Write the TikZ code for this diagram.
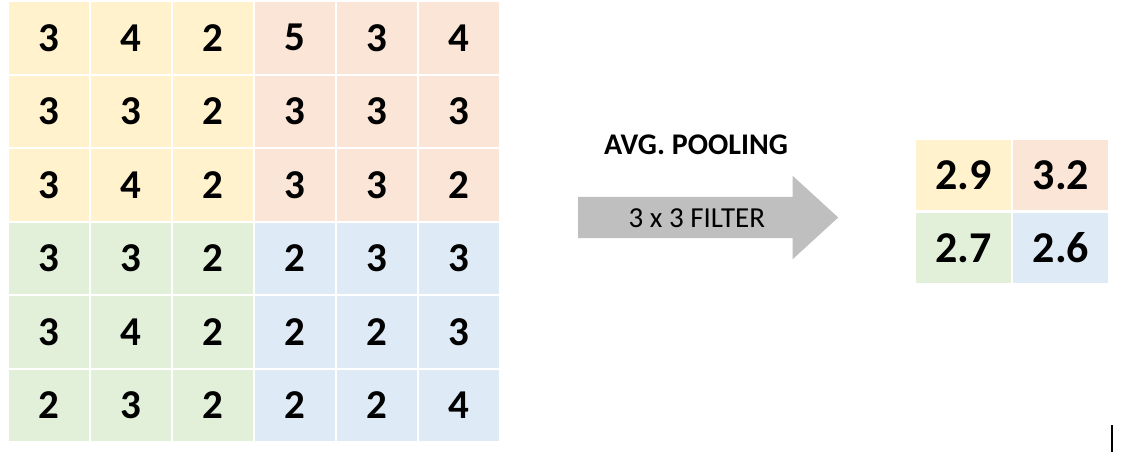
\documentclass[tikz,border=0pt]{standalone}
\usepackage{fontspec}
\setmainfont{Carlito}
\usetikzlibrary{positioning}
\usetikzlibrary{shapes.arrows}
\definecolor{q0}{HTML}{FFF2CC}
\definecolor{q1}{HTML}{FBE5D6}
\definecolor{q2}{HTML}{E2F0D9}
\definecolor{q3}{HTML}{DEEBF7}
\definecolor{arrowgray}{HTML}{BFBFBF}
\tikzset{cell/.style={minimum width=80pt, minimum height=71.5pt, inner sep=0pt, font=\fontsize{41}{41}\selectfont\bfseries}}
\tikzset{outcell/.style={minimum width=95pt, minimum height=70pt, inner sep=0pt, font=\fontsize{44}{44}\selectfont\bfseries}}

\begin{document}
\begin{tikzpicture}[x=1pt,y=-1pt]
\useasboundingbox (0,0) rectangle (1121,452);
\foreach \row [count=\rw from 0] in {{3,4,2,5,3,4},{3,3,2,3,3,3},{3,4,2,3,3,2},{3,3,2,2,3,3},{3,4,2,2,2,3},{2,3,2,2,2,4}} {
  \foreach \v [count=\cl from 0] in \row {
    \pgfmathtruncatemacro{\q}{int(\rw/3)*2+int(\cl/3)}
    \node (in\rw\cl) [cell, fill=q\q] at (49+82*\cl, 37.75+73.5*\rw) {\v};
  }
}

\node (o00) [outcell, fill=q0] at (963.5,175) {2.9};
\node (o01) [outcell, fill=q1, right=2pt of o00] {3.2};
\node (o10) [outcell, fill=q2, below=2.5pt of o00] {2.7};
\node (o11) [outcell, fill=q3, right=2pt of o10] {2.6};

\node (pool) [single arrow, fill=arrowgray, minimum height=260pt, single arrow head extend=21pt, single arrow tip angle=85, text height=20pt, text depth=0pt, inner ysep=10.5pt, font=\fontsize{29}{29}\selectfont, anchor=tail] at (578,217.5) {3 x 3 FILTER};
\node (title) [font=\fontsize{30}{30}\selectfont\bfseries] at (696,145) {AVG. POOLING};

\draw [line width=1.5pt] (1112,425) -- (1112,452);
\end{tikzpicture}
\end{document}
